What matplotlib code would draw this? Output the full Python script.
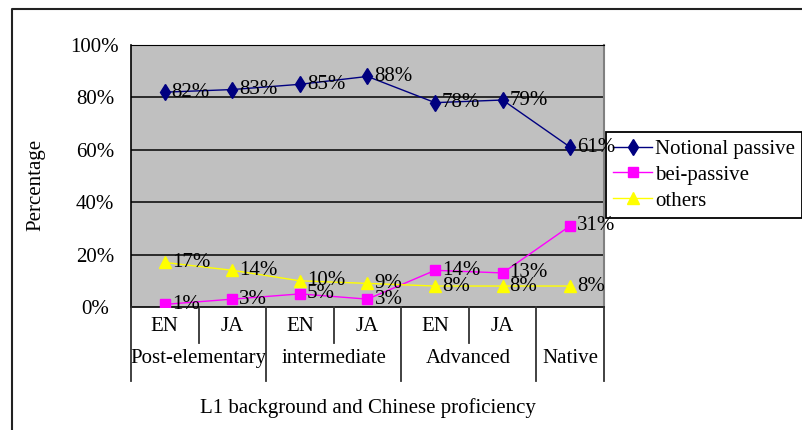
import numpy as np
import matplotlib
matplotlib.use("Agg")
import matplotlib.pyplot as plt
from matplotlib.lines import Line2D
import matplotlib.transforms as mtransforms

plt.rcParams['font.family'] = ['Liberation Serif', 'DejaVu Serif']

# Data
sub_labels = ["EN", "JA", "EN", "JA", "EN", "JA", ""]
group_labels = ["Post-elementary", "intermediate", "Advanced", "Native"]
group_spans = [(0, 1), (2, 3), (4, 5), (6, 6)]
series_names = ["Notional passive", "bei-passive", "others"]
notional = [82, 83, 85, 88, 78, 79, 61]
bei = [1, 3, 5, 3, 14, 13, 31]
others = [17, 14, 10, 9, 8, 8, 8]
y_ticks = [0, 20, 40, 60, 80, 100]
y_tick_labels = ["0%", "20%", "40%", "60%", "80%", "100%"]

W, H = 803, 430
fig = plt.figure(figsize=(W / 100, H / 100), dpi=100)
ax = fig.add_axes([131 / W, 1 - 307 / H, 473 / W, 262 / H])
ax.set_facecolor("#C0C0C0")

x = np.arange(len(notional))
ax.set_xlim(-0.5, len(x) - 0.5)
ax.set_ylim(0, 100)

# gridlines
for yv in y_ticks[1:]:
    ax.axhline(yv, color="#111111", lw=1.2, zorder=1)

styles = [
    dict(color="#000080", marker="d", ms=8, mfc="#000080", mec="#000080"),
    dict(color="#FF00FF", marker="s", ms=7.5, mfc="#FF00FF", mec="#FF00FF"),
    dict(color="#FFFF00", marker="^", ms=8.5, mfc="#FFFF00", mec="#FFFF00"),
]
for vals, name, st in zip([notional, bei, others], series_names, styles):
    ax.plot(x, vals, lw=1.0, label=name, zorder=3, **st)
    for xi, v in zip(x, vals):
        ax.annotate(f"{v}%", (xi, v), xytext=(5, 0), textcoords="offset points",
                    ha="left", va="center", fontsize=15, color="black",
                    zorder=7, annotation_clip=False)

# axes frame
for s in ["left", "bottom"]:
    ax.spines[s].set_color("black")
    ax.spines[s].set_linewidth(1.2)
ax.spines["top"].set_color("black")
ax.spines["right"].set_color("#808080")
ax.spines["right"].set_linewidth(1.5)

ax.set_yticks(y_ticks)
ax.set_yticklabels(y_tick_labels, fontsize=15)
for lab in ax.get_yticklabels():
    lab.set_horizontalalignment("center")
ax.tick_params(axis="y", length=0, pad=26)
ax.set_xticks([])

# category axis: separators and labels
trans = mtransforms.blended_transform_factory(ax.transData, ax.transAxes)
long_y = (307 - 381) / 262
short_y = (307 - 343) / 262
bounds = np.arange(len(x) + 1) - 0.5
long_bounds = [-0.5] + [b + 0.5 for _, b in group_spans]
for b in bounds:
    yb = long_y if any(abs(b - lb) < 1e-9 for lb in long_bounds) else short_y
    ax.plot([b, b], [0, yb], transform=trans, color="#333333", lw=1.3,
            clip_on=False, zorder=4)
for xi, lab in zip(x, sub_labels):
    if lab:
        ax.text(xi, (307 - 331) / 262, lab, transform=trans, ha="center",
                va="baseline", fontsize=15)
for lab, (a, b) in zip(group_labels, group_spans):
    ax.text((a + b) / 2, (307 - 363) / 262, lab, transform=trans, ha="center",
            va="baseline", fontsize=15)

fig.text((131 + 604) / 2 / W, 1 - 413 / H, "L1 background and Chinese proficiency",
         ha="center", va="baseline", fontsize=15)
fig.text(36 / W, 1 - 185 / H, "Percentage", rotation=90, ha="center",
         va="center", fontsize=15)

leg = ax.legend(loc="upper left", bbox_to_anchor=(606 / W, 1 - 132 / H),
                bbox_transform=fig.transFigure, borderaxespad=0, fontsize=15,
                frameon=True, fancybox=False, framealpha=1, edgecolor="black",
                handlelength=1.85, handletextpad=0.15, labelspacing=0.3,
                borderpad=0.35)
leg.get_frame().set_linewidth(1.3)
leg.set_zorder(5)

# outer border
fig.add_artist(Line2D([12 / W, 12 / W, 1], [0, 1 - 9 / H, 1 - 9 / H],
                      transform=fig.transFigure, color="#222222", lw=1.5))

fig.savefig("out.png", dpi=100)
